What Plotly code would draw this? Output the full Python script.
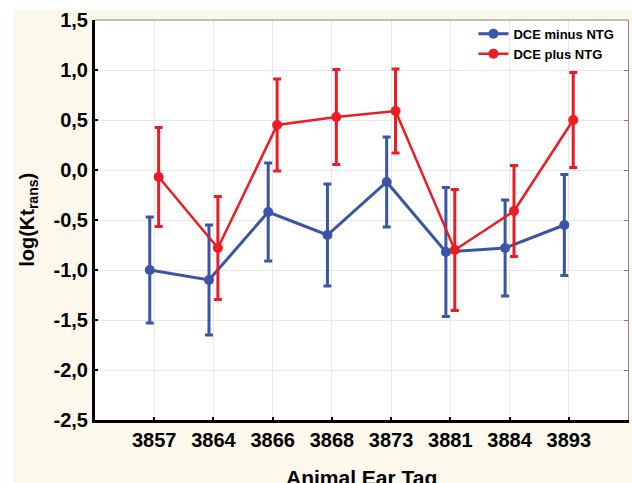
import plotly.graph_objects as go

tags = ["3857", "3864", "3866", "3868", "3873", "3881", "3884", "3893"]
minus_mean = [-1.00, -1.10, -0.42, -0.65, -0.12, -0.82, -0.78, -0.55]
minus_err = [0.53, 0.55, 0.49, 0.51, 0.45, 0.645, 0.48, 0.505]
plus_mean = [-0.07, -0.78, 0.45, 0.53, 0.59, -0.80, -0.41, 0.50]
plus_err = [0.495, 0.515, 0.46, 0.475, 0.42, 0.605, 0.455, 0.475]
y_ticks = [1.5, 1.0, 0.5, 0.0, -0.5, -1.0, -1.5, -2.0, -2.5]
y_tick_text = ["1,5", "1,0", "0,5", "0,0", "-0,5", "-1,0", "-1,5", "-2,0", "-2,5"]

BLUE = "#3a55a5"
RED = "#ec1c24"
CREAM = "#fcf8ec"
FONT = "Liberation Sans"
off = 0.075
pos = list(range(len(tags)))

fig = go.Figure()
fig.add_trace(go.Scatter(
    x=[p - off for p in pos], y=minus_mean, name="DCE minus NTG",
    mode="lines+markers",
    line=dict(color=BLUE, width=3),
    marker=dict(color=BLUE, size=10),
    error_y=dict(type="data", array=minus_err, visible=True, color=BLUE, thickness=3, width=4),
))
fig.add_trace(go.Scatter(
    x=[p + off for p in pos], y=plus_mean, name="DCE plus NTG",
    mode="lines+markers",
    line=dict(color=RED, width=2.5),
    marker=dict(color=RED, size=10),
    error_y=dict(type="data", array=plus_err, visible=True, color=RED, thickness=3, width=4),
))
# invisible trace to anchor the right-hand axis
fig.add_trace(go.Scatter(x=[0], y=[0], yaxis="y2", mode="markers",
                         marker=dict(opacity=0), showlegend=False, hoverinfo="skip"))

fig.update_layout(
    width=632, height=483,
    margin=dict(l=95, r=4, t=20, b=63),
    paper_bgcolor=CREAM,
    plot_bgcolor="white",
    font=dict(family=FONT, color="black"),
    showlegend=True,
    legend=dict(x=0.71, y=1.003, xanchor="left", yanchor="top",
                bgcolor="rgba(0,0,0,0)", font=dict(size=13, weight="bold"),
                tracegroupgap=0, itemwidth=30),
    xaxis=dict(
        range=[-1, 8], tickvals=pos, ticktext=tags,
        tickfont=dict(size=20, weight="bold"),
        showgrid=True, gridcolor="#e8e8e8", gridwidth=1,
        showline=True, linecolor="black", linewidth=3,
        ticks="inside", ticklen=3, tickwidth=2, tickcolor="black",
        zeroline=False, automargin=False,
    ),
    yaxis=dict(
        range=[-2.5, 1.5], tickvals=y_ticks, ticktext=y_tick_text,
        tickfont=dict(size=20, weight="bold"),
        showgrid=True, gridcolor="#e8e8e8", gridwidth=1,
        showline=True, linecolor="black", linewidth=3,
        ticks="inside", ticklen=3, tickwidth=2, tickcolor="black",
        zeroline=False, automargin=False,
    ),
    yaxis2=dict(
        overlaying="y", side="right", range=[-2.5, 1.5], tickvals=y_ticks,
        showticklabels=False, showgrid=False, zeroline=False,
        showline=True, linecolor="#808080", linewidth=1,
        ticks="inside", ticklen=4, tickwidth=1, tickcolor="#808080",
    ),
    annotations=[
        dict(text="<b>Animal Ear Tag</b>", xref="paper", yref="paper", x=0.5, y=-0.143,
             xanchor="center", yanchor="middle", showarrow=False, font=dict(size=21)),
        dict(text="<b>log(Kt<sub>rans</sub>)</b>", xref="paper", yref="paper", x=-0.126, y=0.5,
             xanchor="center", yanchor="middle", textangle=-90, showarrow=False, font=dict(size=20)),
    ],
    shapes=[
        dict(type="rect", xref="paper", yref="paper", x0=-0.2, x1=-0.152, y0=-0.2, y1=1.1,
             fillcolor="white", line=dict(width=0), layer="below"),
        dict(type="rect", xref="paper", yref="paper", x0=-0.2, x1=1.1, y0=1.025, y1=1.1,
             fillcolor="white", line=dict(width=0), layer="below"),
        dict(type="line", xref="paper", yref="paper", x0=0, x1=1, y0=1, y1=1,
             line=dict(color="#808080", width=1)),
    ],
)

fig.write_html("out.html", config={"displayModeBar": False},
               post_script="document.body.style.margin='0';")
